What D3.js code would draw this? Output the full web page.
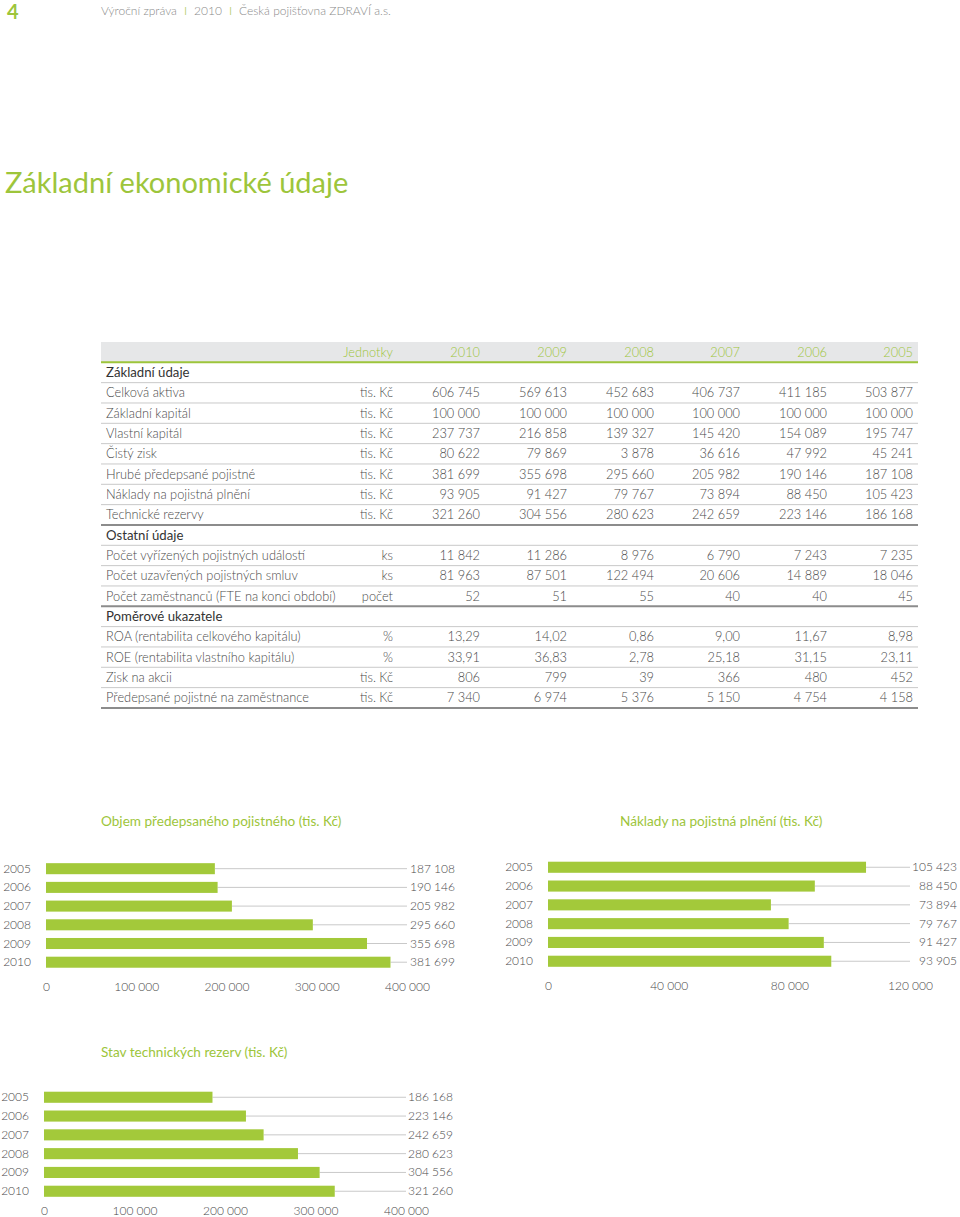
<!DOCTYPE html>
<html lang="cs">
<head>
<meta charset="utf-8">
<script src="https://cdn.jsdelivr.net/npm/d3@7"></script>
<style>
  body { margin: 0; background: #fff; }
  svg { display: block; font-family: Lato, "Open Sans", sans-serif; }
</style>
</head>
<body>
<div id="page"></div>
<script>
// table data
const tableYears = ['2010', '2009', '2008', '2007', '2006', '2005'];

const basicRows = [
  ['Celková aktiva', 'tis. Kč', ['606 745', '569 613', '452 683', '406 737', '411 185', '503 877']],
  ['Základní kapitál', 'tis. Kč', ['100 000', '100 000', '100 000', '100 000', '100 000', '100 000']],
  ['Vlastní kapitál', 'tis. Kč', ['237 737', '216 858', '139 327', '145 420', '154 089', '195 747']],
  ['Čistý zisk', 'tis. Kč', ['80 622', '79 869', '3 878', '36 616', '47 992', '45 241']],
  ['Hrubé předepsané pojistné', 'tis. Kč', ['381 699', '355 698', '295 660', '205 982', '190 146', '187 108']],
  ['Náklady na pojistná plnění', 'tis. Kč', ['93 905', '91 427', '79 767', '73 894', '88 450', '105 423']],
  ['Technické rezervy', 'tis. Kč', ['321 260', '304 556', '280 623', '242 659', '223 146', '186 168']]
];

const otherRows = [
  ['Počet vyřízených pojistných událostí', 'ks', ['11 842', '11 286', '8 976', '6 790', '7 243', '7 235']],
  ['Počet uzavřených pojistných smluv', 'ks', ['81 963', '87 501', '122 494', '20 606', '14 889', '18 046']],
  ['Počet zaměstnanců (FTE na konci období)', 'počet', ['52', '51', '55', '40', '40', '45']]
];

const ratioRows = [
  ['ROA (rentabilita celkového kapitálu)', '%', ['13,29', '14,02', '0,86', '9,00', '11,67', '8,98']],
  ['ROE (rentabilita vlastního kapitálu)', '%', ['33,91', '36,83', '2,78', '25,18', '31,15', '23,11']],
  ['Zisk na akcii', 'tis. Kč', ['806', '799', '39', '366', '480', '452']],
  ['Předepsané pojistné na zaměstnance', 'tis. Kč', ['7 340', '6 974', '5 376', '5 150', '4 754', '4 158']]
];

// chart data
const chartYears = ['2005', '2006', '2007', '2008', '2009', '2010'];
const premiumValues = [187108, 190146, 205982, 295660, 355698, 381699];
const claimsValues = [105423, 88450, 73894, 79767, 91427, 93905];
const reserveValues = [186168, 223146, 242659, 280623, 304556, 321260];
const premiumTicks = [0, 100000, 200000, 300000, 400000];
const claimsTicks = [0, 40000, 80000, 120000];
const reserveTicks = [0, 100000, 200000, 300000, 400000];

const green = '#9dc53b';
const barGreen = '#a3c93a';
const textGray = '#4a4a4a';
const lightGray = '#c9c9c9';
const bodyWeight = 300;

const cz = d3.formatLocale({ decimal: ',', thousands: ' ', grouping: [3], currency: ['', ' Kč'] });
const fmt = cz.format(',d');

const svg = d3.select('#page').append('svg')
  .attr('width', 960)
  .attr('height', 1217);

svg.append('rect').attr('width', 960).attr('height', 1217).attr('fill', '#fff');

// page header
svg.append('text')
  .attr('x', 7).attr('y', 19)
  .attr('font-size', 20).attr('font-weight', 700)
  .attr('fill', green)
  .text('4');

const headerParts = [
  { text: 'Výroční zpráva', fill: '#8a8a8a' },
  { text: 'I', fill: green },
  { text: '2010', fill: '#8a8a8a' },
  { text: 'I', fill: green },
  { text: 'Česká pojišťovna ZDRAVÍ a.s.', fill: '#8a8a8a' }
];
let hx = 101;
for (const part of headerParts) {
  const t = svg.append('text')
    .attr('x', hx).attr('y', 15)
    .attr('font-size', 12).attr('font-weight', bodyWeight)
    .attr('fill', part.fill)
    .text(part.text);
  hx += t.node().getComputedTextLength() + 7;
}

svg.append('text')
  .attr('x', 5).attr('y', 193)
  .attr('font-size', 29)
  .attr('fill', green)
  .text('Základní ekonomické údaje');

// table
function drawTable() {
  const left = 101;
  const right = 918;
  const top = 342;
  const rowH = 20.33;
  const unitX = 393;
  const colX = [480, 567, 654, 740, 827, 913];

  const rows = [{ type: 'head' }];
  const sections = [
    ['Základní údaje', basicRows],
    ['Ostatní údaje', otherRows],
    ['Poměrové ukazatele', ratioRows]
  ];
  for (const [name, list] of sections) {
    rows.push({ type: 'section', label: name });
    list.forEach((r, i) => {
      rows.push({ type: 'row', label: r[0], unit: r[1], values: r[2], last: i === list.length - 1 });
    });
  }

  const y = d3.scaleLinear().domain([0, rows.length]).range([top, top + rows.length * rowH]);
  const g = svg.append('g').attr('font-size', 12.8).attr('font-weight', bodyWeight);

  g.append('rect')
    .attr('x', left).attr('y', y(0))
    .attr('width', right - left).attr('height', rowH)
    .attr('fill', '#e6e7e8');

  rows.forEach((row, i) => {
    const base = y(i) + rowH / 2 + 4.5;
    let stroke = lightGray;
    let sw = 1;
    if (row.type === 'head') {
      stroke = green;
      sw = 2;
      g.append('text').attr('x', unitX).attr('y', base)
        .attr('text-anchor', 'end').attr('fill', green).text('Jednotky');
      tableYears.forEach((yr, j) => {
        g.append('text').attr('x', colX[j]).attr('y', base)
          .attr('text-anchor', 'end').attr('fill', green).text(yr);
      });
    } else if (row.type === 'section') {
      g.append('text').attr('x', left + 5).attr('y', base)
        .attr('fill', '#333').attr('font-size', 13.2).attr('font-weight', 400).text(row.label);
    } else {
      if (row.last) {
        stroke = '#8c8c8c';
        sw = 2;
      }
      g.append('text').attr('x', left + 5).attr('y', base)
        .attr('fill', textGray).text(row.label);
      g.append('text').attr('x', unitX).attr('y', base)
        .attr('text-anchor', 'end').attr('fill', textGray).text(row.unit);
      row.values.forEach((v, j) => {
        g.append('text').attr('x', colX[j]).attr('y', base)
          .attr('text-anchor', 'end').attr('fill', textGray).text(v);
      });
    }
    g.append('line')
      .attr('x1', left).attr('x2', right)
      .attr('y1', y(i + 1)).attr('y2', y(i + 1))
      .attr('stroke', stroke).attr('stroke-width', sw);
  });
}

// horizontal bar chart with value labels at the right
function barChart(cfg) {
  const g = svg.append('g').attr('font-weight', bodyWeight);

  g.append('text')
    .attr('x', cfg.titleX).attr('y', cfg.titleY)
    .attr('font-size', 13.6).attr('font-weight', 400).attr('fill', green)
    .text(cfg.title);

  const x = d3.scaleLinear()
    .domain([0, cfg.ticks[cfg.ticks.length - 1]])
    .range([cfg.x0, cfg.x1]);

  const y = d3.scaleBand()
    .domain(chartYears)
    .range([cfg.top, cfg.bottom])
    .padding(0.41);

  const rows = chartYears.map((yr, i) => ({ year: yr, value: cfg.values[i] }));

  g.selectAll('line.guide')
    .data(rows)
    .join('line')
    .attr('class', 'guide')
    .attr('x1', (d) => x(d.value)).attr('x2', cfg.x1)
    .attr('y1', (d) => y(d.year) + y.bandwidth() / 2)
    .attr('y2', (d) => y(d.year) + y.bandwidth() / 2)
    .attr('stroke', lightGray).attr('stroke-width', 1);

  g.selectAll('rect.bar')
    .data(rows)
    .join('rect')
    .attr('class', 'bar')
    .attr('x', x(0))
    .attr('y', (d) => y(d.year))
    .attr('width', (d) => x(d.value) - x(0))
    .attr('height', y.bandwidth())
    .attr('fill', barGreen);

  g.selectAll('text.val')
    .data(rows)
    .join('text')
    .attr('class', 'val')
    .attr('x', cfg.labelX)
    .attr('y', (d) => y(d.year) + y.bandwidth() / 2 + 4)
    .attr('text-anchor', 'end')
    .attr('font-size', 12).attr('fill', textGray)
    .text((d) => fmt(d.value));

  g.selectAll('text.yr')
    .data(rows)
    .join('text')
    .attr('class', 'yr')
    .attr('x', cfg.yearX)
    .attr('y', (d) => y(d.year) + y.bandwidth() / 2 + 4)
    .attr('text-anchor', 'end')
    .attr('font-size', 12).attr('fill', textGray)
    .text((d) => d.year);

  const axis = d3.axisBottom(x)
    .tickValues(cfg.ticks)
    .tickSize(0)
    .tickPadding(0)
    .tickFormat(fmt);

  const ax = g.append('g')
    .attr('transform', `translate(0,${cfg.axisY})`)
    .call(axis);
  ax.select('.domain').remove();
  ax.selectAll('text')
    .attr('font-family', 'Lato, "Open Sans", sans-serif')
    .attr('font-size', 12)
    .attr('fill', textGray)
    .attr('dy', '0.32em');
}

drawTable();

barChart({
  title: 'Objem předepsaného pojistného (tis. Kč)',
  titleX: 101, titleY: 826,
  values: premiumValues, ticks: premiumTicks,
  x0: 46, x1: 407, top: 855.5, bottom: 975.4,
  labelX: 455, yearX: 31, axisY: 987
});

barChart({
  title: 'Náklady na pojistná plnění (tis. Kč)',
  titleX: 620, titleY: 826,
  values: claimsValues, ticks: claimsTicks,
  x0: 548, x1: 910, top: 854, bottom: 974.5,
  labelX: 957, yearX: 533, axisY: 986
});

barChart({
  title: 'Stav technických rezerv (tis. Kč)',
  titleX: 101, titleY: 1057,
  values: reserveValues, ticks: reserveTicks,
  x0: 44, x1: 406, top: 1084, bottom: 1204.5,
  labelX: 453, yearX: 29, axisY: 1211
});
</script>
</body>
</html>
